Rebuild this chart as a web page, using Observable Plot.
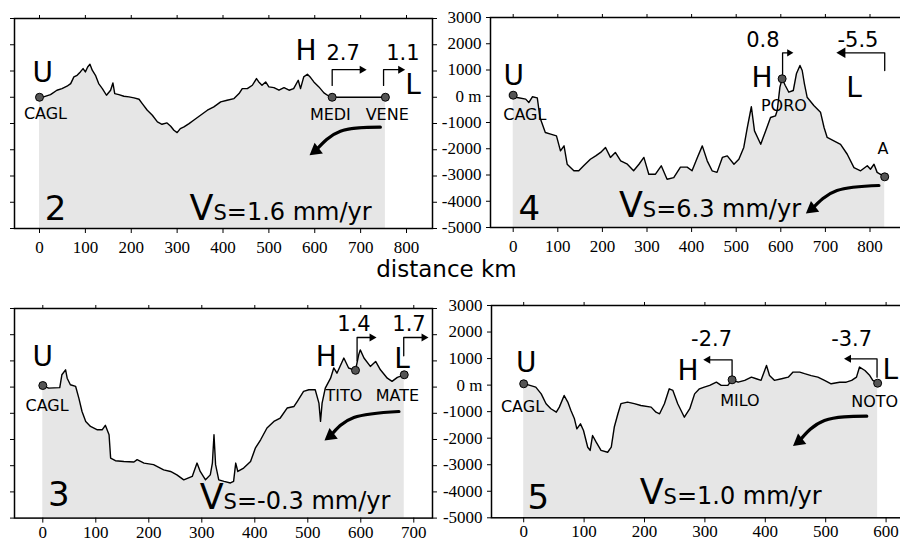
<!DOCTYPE html>
<html><head><meta charset="utf-8">
<script src="https://cdn.jsdelivr.net/npm/d3@7"></script>
<script src="https://cdn.jsdelivr.net/npm/@observablehq/plot@0.6"></script>
<style>
html,body{margin:0;padding:0;background:#fff;}
#fig{position:relative;width:900px;height:541px;overflow:hidden;background:#fff;}
#xlabel{position:absolute;left:0;width:893px;text-align:center;top:261px;font-family:"DejaVu Sans";font-size:23px;line-height:17px;color:#000;}
#fig svg g[aria-label$="tick label"] text{font-family:"Liberation Serif",serif;font-size:17px;}
</style></head><body>
<div id="fig"><div id="xlabel">distance km</div></div>
<script>
// ---------- tick values ----------
const yTicks = [3000, 2000, 1000, 0, -1000, -2000, -3000, -4000, -5000];
const xTicks2 = [0, 100, 200, 300, 400, 500, 600, 700, 800];
const xTicks4 = [0, 100, 200, 300, 400, 500, 600, 700, 800];
const xTicks3 = [0, 100, 200, 300, 400, 500, 600, 700];
const xTicks5 = [0, 100, 200, 300, 400, 500, 600];

// ---------- profiles [km, m] ----------
const profile2 = [[0,0],[9,13],[24,100],[38,267],[49,330],[60,420],[68,520],[75,775],[82,838],[89,965],[95,1092],[100,965],[105,1155],[110,1257],[115,1030],[122,838],[129,520],[137,330],[146,76],[155,267],[160,546],[164,140],[173,100],[184,38],[195,13],[206,-25],[217,-76],[224,-241],[235,-495],[246,-686],[257,-940],[267,-1029],[278,-978],[286,-1105],[293,-1257],[300,-1346],[307,-1194],[315,-1130],[326,-1003],[336,-876],[351,-686],[366,-495],[380,-368],[395,-178],[409,-114],[424,-51],[435,140],[442,330],[453,330],[464,457],[473,711],[478,584],[485,457],[493,584],[500,394],[511,368],[522,267],[533,368],[544,267],[554,330],[564,648],[569,330],[576,775],[584,876],[591,749],[598,584],[609,394],[620,165],[631,38],[638,0],[754,0]];
const profile4 = [[0,40],[9,-50],[28,-110],[35,-240],[43,-20],[54,-60],[60,-810],[72,-1380],[84,-1440],[97,-1510],[106,-2080],[114,-1890],[121,-2590],[136,-2840],[147,-2840],[158,-2650],[173,-2400],[185,-2270],[196,-2140],[207,-1950],[218,-2330],[229,-2140],[241,-2460],[256,-2590],[270,-2840],[282,-2590],[293,-2330],[304,-2970],[319,-2970],[332,-2650],[345,-3160],[360,-3100],[375,-2700],[390,-2700],[401,-2840],[413,-2330],[424,-1890],[435,-2460],[446,-2840],[457,-2900],[469,-2330],[480,-2270],[495,-2590],[506,-2400],[517,-1950],[525,-1190],[534,-400],[541,-1320],[555,-1830],[566,-1320],[577,-810],[588,-750],[592,-543],[598,345],[603,665],[610,410],[618,154],[628,219],[635,855],[643,1171],[648,981],[653,474],[659,-36],[674,-352],[689,-608],[697,-1190],[704,-1570],[719,-1700],[734,-1830],[749,-2210],[764,-2720],[779,-2840],[794,-2650],[801,-2780],[809,-2590],[816,-2900],[833,-3070]];
const profile3 = [[0,60],[11,-40],[32,-20],[36,470],[43,660],[46,340],[52,90],[62,25],[68,-420],[74,-930],[81,-1310],[90,-1500],[103,-1630],[112,-1630],[118,-1460],[125,-1820],[128,-2710],[137,-2810],[153,-2840],[172,-2860],[178,-2770],[191,-2900],[209,-2960],[228,-3160],[241,-3220],[253,-3350],[266,-3540],[282,-3410],[291,-2900],[297,-3220],[307,-3540],[316,-3350],[320,-2900],[323,-1820],[326,-2960],[332,-3540],[342,-3600],[354,-3660],[360,-3600],[364,-2900],[368,-3220],[379,-3090],[392,-2840],[401,-2330],[411,-2010],[423,-1560],[436,-1310],[448,-1180],[461,-800],[474,-740],[480,-550],[492,-165],[502,-100],[514,-100],[521,-610],[524,-1310],[527,-610],[533,-40],[543,340],[549,730],[555,530],[568,1110],[577,730],[587,660],[590,640],[596,1230],[599,1420],[606,1110],[618,790],[628,980],[637,660],[650,340],[659,220],[669,370],[682,470]];
const profile5 = [[0,50],[9,0],[20,-75],[29,-330],[37,-700],[45,-890],[54,-1020],[59,-830],[67,-390],[73,-640],[78,-950],[84,-1270],[88,-1650],[94,-1460],[99,-1710],[106,-2340],[110,-2460],[114,-1900],[120,-2150],[128,-2460],[139,-2530],[145,-2340],[150,-1580],[156,-1080],[161,-700],[172,-640],[183,-700],[194,-770],[211,-830],[219,-1020],[225,-1080],[233,-700],[241,-140],[247,-200],[255,-700],[266,-1210],[275,-890],[283,-330],[291,-140],[299,-75],[308,-10],[319,110],[327,-10],[338,-10],[345,200],[355,110],[366,180],[377,300],[385,240],[393,180],[402,740],[407,360],[415,180],[427,240],[438,300],[446,490],[457,490],[465,430],[476,360],[487,300],[498,180],[509,50],[523,110],[534,110],[543,180],[551,300],[556,680],[565,550],[573,360],[578,180],[586,72]];

// ---------- stations ----------
const stations2 = [{name:"CAGL",km:0,m:0},{name:"MEDI",km:638,m:0},{name:"VENE",km:754,m:0}];
const stations4 = [{name:"CAGL",km:0,m:40},{name:"PORO",km:603,m:665},{name:"A",km:833,m:-3070}];
const stations3 = [{name:"CAGL",km:0,m:60},{name:"TITO",km:590,m:640},{name:"MATE",km:682,m:470}];
const stations5 = [{name:"CAGL",km:0,m:50},{name:"MILO",km:345,m:200},{name:"NOTO",km:586,m:72}];

// ---------- annotations (data coordinates) ----------
const labels2 = [
  {t:"U",kind:"big",km:7,m:573},{t:"H",kind:"big",km:581,m:1427},{t:"L",kind:"big",km:814,m:131},
  {t:"2.7",kind:"num",km:662,m:1427},{t:"1.1",kind:"num",km:792,m:1427},
  {t:"CAGL",kind:"stn",km:13,m:-810},{t:"MEDI",kind:"stn",km:634,m:-859},{t:"VENE",kind:"stn",km:758,m:-859},
  {t:"2",kind:"pnl",km:35,m:-4695},{t:"VS=1.6 mm/yr",kind:"vs",km:327,m:-4695}];
const labels4 = [
  {t:"U",kind:"big",km:1,m:410},{t:"H",kind:"big",km:558,m:345},{t:"L",kind:"big",km:764,m:-10},
  {t:"0.8",kind:"num",km:560,m:1869},{t:"-5.5",kind:"num",km:773,m:1869},
  {t:"CAGL",kind:"stn",km:26,m:-886},{t:"PORO",kind:"stn",km:607,m:-570},{t:"A",kind:"stn",km:829,m:-2192},
  {t:"4",kind:"pnl",km:36,m:-4733},{t:"VS=6.3 mm/yr",kind:"vs",km:237,m:-4608}];
const labels3 = [
  {t:"U",kind:"big",km:0,m:813},{t:"H",kind:"big",km:535,m:813},{t:"L",kind:"big",km:678,m:748},
  {t:"1.4",kind:"num",km:587,m:2149},{t:"1.7",kind:"num",km:691,m:2149},
  {t:"CAGL",kind:"stn",km:8,m:-905},{t:"TITO",kind:"stn",km:568,m:-523},{t:"MATE",kind:"stn",km:669,m:-523},
  {t:"3",kind:"pnl",km:30,m:-4531},{t:"VS=-0.3 mm/yr",kind:"vs",km:296,m:-4656}];
const labels5 = [
  {t:"U",kind:"big",km:4,m:487},{t:"H",kind:"big",km:272,m:200},{t:"L",kind:"big",km:607,m:238},
  {t:"-2.7",kind:"num",km:311,m:1455},{t:"-3.7",kind:"num",km:543,m:1455},
  {t:"CAGL",kind:"stn",km:-2,m:-1020},{t:"MILO",kind:"stn",km:358,m:-805},{t:"NOTO",kind:"stn",km:581,m:-832},
  {t:"5",kind:"pnl",km:24,m:-4660},{t:"VS=1.0 mm/yr",kind:"vs",km:192,m:-4472}];

// ---------- velocity arrows: vertical from station, then horizontal ----------
const arrows2 = [{x:638,from:450,to:1050,tip:703},{x:750,from:450,to:1050,tip:787}];
const arrows4 = [{x:604,from:790,to:1655,tip:619,small:true},{x:833,from:981,to:1655,tip:738}];
const arrows3 = [{x:593,from:1004,to:1893,tip:621},{x:681,from:1195,to:1893,tip:719}];
const arrows5 = [{x:345,from:298,to:954,tip:305},{x:585,from:298,to:992,tip:538}];

// ---------- curved motion arrows ----------
const curve2 = [[743,-1141],[656,-1293],[602,-2029]];
const curve4 = [[820,-3400],[726,-3590],[670,-4288]];
const curve3 = [[672,-931],[587,-1160],[543,-1859]];
const curve5 = [[568,-1171],[498,-1333],[456,-2113]];

// ---------- layout ----------
const panels = [
  {frame:[14,432,18,228], zeroPx:39, pxPerKm:0.45875, yLabels:false, rightTicks:true, xPad:7,
   xTicks:xTicks2, profile:profile2, stations:stations2, labels:labels2, arrows:arrows2, curve:curve2},
  {frame:[490,910,17,227], zeroPx:512.7, pxPerKm:0.446, yLabels:true, rightTicks:false, xPad:7,
   xTicks:xTicks4, profile:profile4, stations:stations4, labels:labels4, arrows:arrows4, curve:curve4},
  {frame:[14,432,307.7,517.3], zeroPx:42.3, pxPerKm:0.53, yLabels:false, rightTicks:true, xPad:2.5,
   xTicks:xTicks3, profile:profile3, stations:stations3, labels:labels3, arrows:arrows3, curve:curve3},
  {frame:[490.5,910,305,517.3], zeroPx:522.7, pxPerKm:0.604, yLabels:true, rightTicks:false, xPad:2.5,
   xTicks:xTicks5, profile:profile5, stations:stations5, labels:labels5, arrows:arrows5, curve:curve5}
];

const SANS = "DejaVu Sans";
const SERIF = "Liberation Serif";
const kindStyle = {
  big:{fontSize:28, textAnchor:"middle"},
  num:{fontSize:21, textAnchor:"middle"},
  stn:{fontSize:16, textAnchor:"middle"},
  pnl:{fontSize:34, textAnchor:"middle"},
  vs:{fontSize:24, textAnchor:"start"}
};
const fmtY = d => d === 0 ? "0 m" : String(d);
const fig = document.getElementById("fig");

function makePanel(p) {
  const [x0, x1, y0, y1] = p.frame;
  const mL = p.yLabels ? 52 : 14, mR = 10, mT = 10, mB = 34;
  const xDomain = [(x0 - p.zeroPx) / p.pxPerKm, (x1 - p.zeroPx) / p.pxPerKm];
  const rows = p.profile.map(([km, m]) => ({km, m}));
  const arrowPts = p.arrows.flatMap((a, i) => [
    {i, km:a.x, m:a.from}, {i, km:a.x, m:a.to}, {i, km:a.tip, m:a.to}]);
  const heads = p.arrows.map(a => ({km:a.tip, m:a.to, rot:a.tip > a.x ? 90 : -90, r:a.small ? 1.6 : 3.4}));
  const curve = p.curve.map(([km, m]) => ({km, m}));
  const textMarks = Object.entries(kindStyle).map(([kind, st]) =>
    Plot.text(p.labels.filter(d => d.kind === kind), {
      x:"km", y:"m", text:"t", fontFamily:SANS, fontSize:st.fontSize,
      textAnchor:st.textAnchor, lineAnchor:"bottom", fill:"black"}));
  const marks = [
    Plot.areaY(rows, {x:"km", y1:-5000, y2:"m", fill:"#e6e6e6"}),
    Plot.line(rows, {x:"km", y:"m", stroke:"black", strokeWidth:1.4}),
    Plot.line(arrowPts, {x:"km", y:"m", z:"i", stroke:"black", strokeWidth:1.3}),
    Plot.dot(heads, {x:"km", y:"m", symbol:"triangle", r:"r", fill:"black", stroke:"none", rotate:"rot"}),
    Plot.line(curve, {x:"km", y:"m", curve:"natural", stroke:"black", strokeWidth:3.2, strokeLinecap:"round"}),
    Plot.dot([curve[curve.length - 1]], {x:"km", y:"m", symbol:"triangle", r:5, fill:"black", stroke:"none", rotate:-128}),
    Plot.dot(p.stations, {x:"km", y:"m", r:4, fill:"#555", stroke:"black", strokeWidth:1}),
    ...textMarks,
    Plot.frame({stroke:"black", strokeWidth:1.5}),
    Plot.axisX(p.xTicks, {anchor:"bottom", tickSize:5, tickPadding:p.xPad, tickFormat:d => String(d), label:null,
      fontFamily:SERIF, fontSize:17}),
    Plot.axisX(p.xTicks, {anchor:"top", tickSize:4, tickFormat:() => "", label:null}),
    Plot.axisY(yTicks, {anchor:"left", tickSize:4, tickPadding:5, tickFormat:p.yLabels ? fmtY : () => "", label:null,
      fontFamily:SERIF, fontSize:17})
  ];
  if (p.rightTicks) marks.push(Plot.axisY(yTicks, {anchor:"right", tickSize:4, tickFormat:() => "", label:null}));
  const chart = Plot.plot({
    width:(x1 - x0) + mL + mR,
    height:(y1 - y0) + mT + mB,
    marginLeft:mL, marginRight:mR, marginTop:mT, marginBottom:mB,
    x:{domain:xDomain},
    y:{domain:[-5000, 3000]},
    style:{fontFamily:SERIF, fontSize:"17px", overflow:"visible", background:"transparent", color:"black"},
    marks
  });
  chart.style.position = "absolute";
  chart.style.left = (x0 - mL) + "px";
  chart.style.top = (y0 - mT) + "px";
  chart.style.maxWidth = "none";
  // render V with subscript-size S and the rest at a medium size
  d3.select(chart).selectAll("text").each(function() {
    const t = this.textContent;
    if (t.startsWith("VS=")) {
      const s = d3.select(this);
      s.text(null);
      s.append("tspan").attr("font-size", 35).text("V");
      s.append("tspan").attr("font-size", 21).text("S");
      s.append("tspan").attr("font-size", 24).text(t.slice(2));
    }
  });
  fig.appendChild(chart);
}
panels.forEach(makePanel);
</script></body></html>
